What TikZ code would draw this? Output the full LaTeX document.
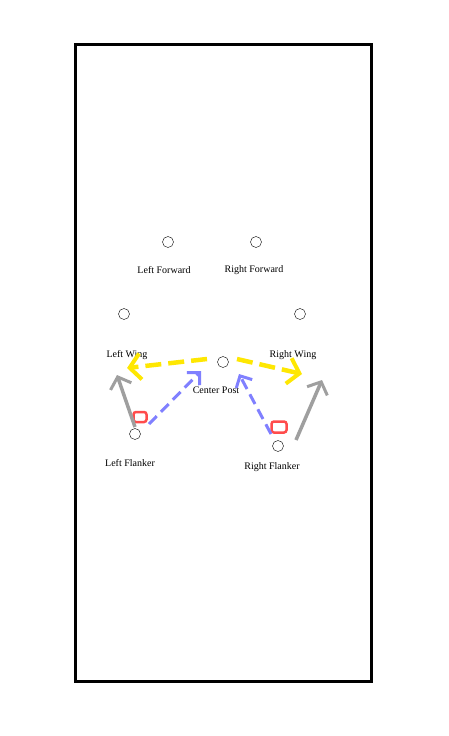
\documentclass[tikz,border=0pt]{standalone}
\usepackage{fontspec}
\setmainfont{Liberation Serif}
\usetikzlibrary{arrows.meta, positioning}

\begin{document}
\begin{tikzpicture}[
    x=1pt, y=-1pt,
    player/.style={circle, draw, thin, minimum size=11pt, inner sep=0pt},
    lbl/.style={font=\fontsize{10}{11}\selectfont, inner sep=1pt},
    redbox/.style={draw=red!70, line width=2.5pt, rounded corners=2.5pt, fill=white, minimum width=13pt, minimum height=10pt, inner sep=0pt},
    pass/.style={yellow!90!orange, line width=4.5pt, dash pattern=on 16pt off 7pt, -{Straight Barb[length=11pt, width=26pt, line width=4pt]}},
    cut/.style={blue!50, line width=3pt, dash pattern=on 11pt off 6pt, -{Straight Barb[length=9pt, width=18pt, line width=3pt]}},
    run/.style={gray!75, line width=3.5pt, -{Straight Barb[length=10pt, width=22pt, line width=3pt]}}
]
\useasboundingbox (0,0) rectangle (449,736);
\draw[line width=3pt] (75,44) rectangle (371,681);

% players
\node[player] (lf) at (168,242) {};
\node[player] (rf) at (256,242) {};
\node[player] (lw) at (124,314) {};
\node[player] (rw) at (300,314) {};
\node[player] (cp) at (223,362) {};
\node[player] (lfl) at (135,434) {};
\node[player] (rfl) at (278,446) {};

\node[lbl] (lf-t) at (164,270) {Left Forward};
\node[lbl] (rf-t) at (254,270) {Right Forward};
\node[lbl] (lw-t) at (127,355) {Left Wing};
\node[lbl] (rw-t) at (293,355) {Right Wing};
\node[lbl] (cp-t) at (216,390) {Center Post};
\node[lbl] (lfl-t) at (130,463) {Left Flanker};
\node[lbl] (rfl-t) at (272,467) {Right Flanker};

% ball positions
\node[redbox] (lball) at (140,417) {};
\node[redbox, minimum width=15pt, minimum height=11pt] (rball) at (279,427) {};

% arrow ends
\coordinate (yl-a) at (207,359);
\coordinate (yl-b) at (127,368);
\coordinate (yr-a) at (237,359);
\coordinate (yr-b) at (302,374);
\coordinate (bl-a) at (149,424);
\coordinate (bl-b) at (201,371);
\coordinate (br-a) at (271,434);
\coordinate (br-b) at (239,374);
\coordinate (gl-a) at (135,427);
\coordinate (gl-b) at (117,375);
\coordinate (gr-a) at (296,440);
\coordinate (gr-b) at (322,380);

\draw[run] (gl-a) -- (gl-b);
\draw[run] (gr-a) -- (gr-b);
\draw[cut] (bl-a) -- (bl-b);
\draw[cut] (br-a) -- (br-b);
\draw[pass] (yl-a) -- (yl-b);
\draw[pass] (yr-a) -- (yr-b);
\end{tikzpicture}
\end{document}
